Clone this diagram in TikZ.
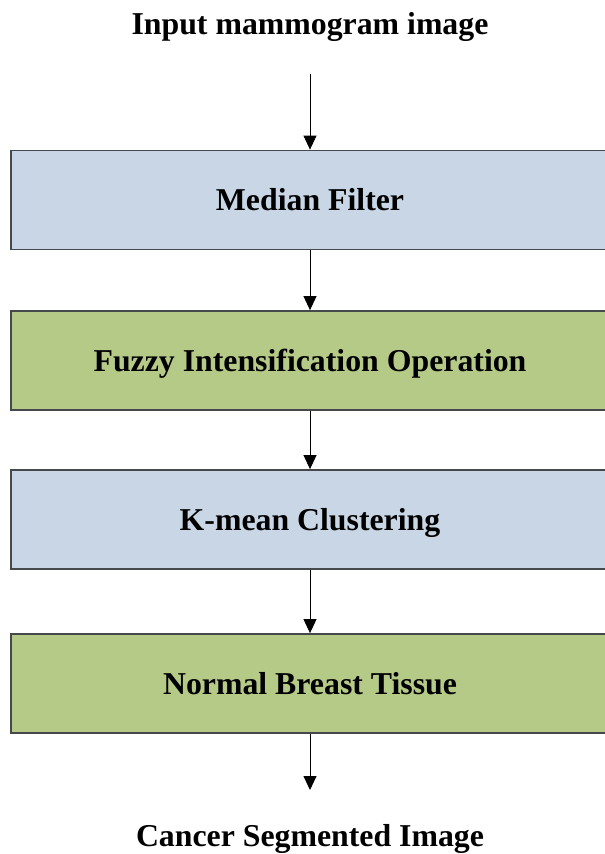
\documentclass[tikz,border=0pt]{standalone}
\usepackage{fontspec}
\setmainfont{Liberation Serif}
\usetikzlibrary{arrows.meta}
\definecolor{boxblue}{RGB}{200,214,229}
\definecolor{boxgreen}{RGB}{182,202,135}
\definecolor{boxedge}{RGB}{70,72,76}
\tikzset{
  stepbox/.style={draw=boxedge, line width=1.8pt, minimum width=598pt, minimum height=99pt, inner sep=0pt, text height=21pt, text depth=0pt, font=\fontsize{31.8}{36}\selectfont\bfseries},
  bluebox/.style={stepbox, fill=boxblue},
  greenbox/.style={stepbox, fill=boxgreen},
  label/.style={font=\fontsize{31.8}{36}\selectfont\bfseries, inner sep=0pt, anchor=base},
  flow/.style={-{Triangle[width=13pt,length=14pt]}, line width=0.9pt, black}
}
\begin{document}
\begin{tikzpicture}[x=1pt,y=-1pt]
\useasboundingbox (0,0) rectangle (605,854);
\node[label] (title) at (310,34) {Input mammogram image};
\coordinate (start) at (310,74);
\node[bluebox] (b1) at (310,200) {Median Filter};
\node[greenbox] (b2) at (310,360.5) {Fuzzy Intensification Operation};
\node[bluebox] (b3) at (310,519.5) {K-mean Clustering};
\node[greenbox] (b4) at (310,683.5) {Normal Breast Tissue};
\coordinate (end) at (310,790);
\node[label] (out) at (310,846) {Cancer Segmented Image};
\draw[flow] (start) -- (b1.north);
\draw[flow] (b1.south) -- (b2.north);
\draw[flow] (b2.south) -- (b3.north);
\draw[flow] (b3.south) -- (b4.north);
\draw[flow] (b4.south) -- (end);
\end{tikzpicture}
\end{document}
